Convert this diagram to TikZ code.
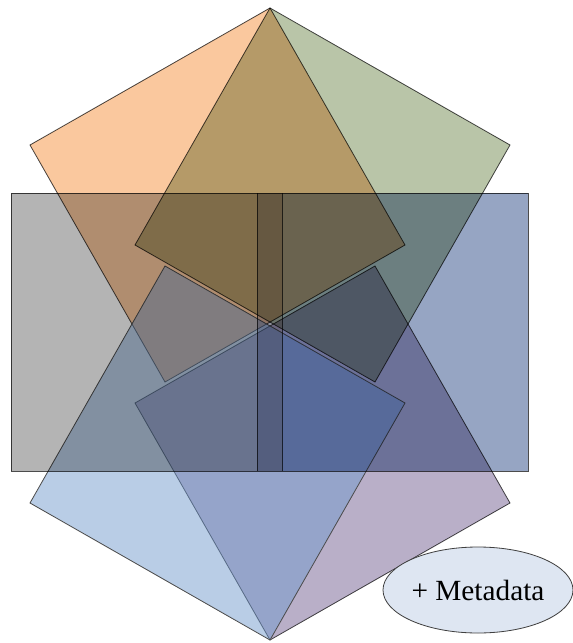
\documentclass[tikz,border=0pt]{standalone}
\usepackage{fontspec}
\setmainfont{Liberation Serif}
\usetikzlibrary{shapes.geometric}
\definecolor{sqorange}{RGB}{250,200,158}
\definecolor{sqgreen}{RGB}{185,197,168}
\definecolor{sqblue}{RGB}{115,155,205}
\definecolor{sqpurple}{RGB}{185,175,200}
\definecolor{rectgray}{RGB}{180,180,180}
\definecolor{rectblue}{RGB}{150,165,195}
\definecolor{stripgray}{RGB}{145,147,160}
\definecolor{metafill}{RGB}{222,230,242}
\begin{document}
\begin{tikzpicture}[x=0.03cm,y=-0.03cm,
    piece/.style={draw=black!70,line width=0.7pt,blend mode=multiply},
    glass/.style={draw=black!70,line width=0.7pt,fill opacity=0.5},
    meta/.style={ellipse,draw=black!75,line width=0.7pt,fill=metafill,minimum width=5.7cm,minimum height=2.58cm,inner sep=0pt}]
    \useasboundingbox (0,0) rectangle (573,643);
    \draw[piece,fill=sqorange] (270,8)--(30,145)--(165,382)--(405,245)--cycle;
    \draw[piece,fill=sqgreen] (270,8)--(510,145)--(375,382)--(135,245)--cycle;
    \draw[piece,fill=sqpurple] (270,640)--(510,503)--(375,266)--(135,403)--cycle;
    \draw[glass,fill=sqblue] (270,640)--(30,503)--(165,266)--(405,403)--cycle;
    % the box, split in two halves with a darker seam
    \fill[blend mode=multiply,fill=rectgray] (11,193) rectangle (257,471);
    \fill[blend mode=multiply,fill=rectblue] (282,193) rectangle (528,471);
    \fill[blend mode=multiply,fill=stripgray] (257,193) rectangle (282,471);
    \draw[piece] (11,193) rectangle (528,471);
    \draw[piece] (257,193) -- (257,471) (282,193) -- (282,471);
    \node[meta] (metadata) at (478,590) {\fontsize{25}{30}\selectfont + Metadata};
\end{tikzpicture}
\end{document}
